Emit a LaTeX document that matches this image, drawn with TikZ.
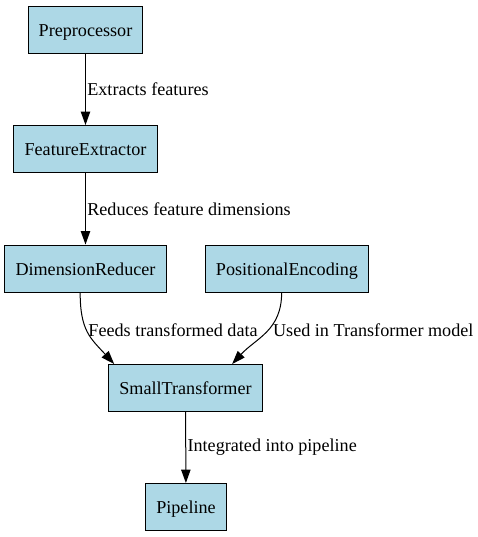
\documentclass[tikz,border=0pt]{standalone}
\usepackage{fontspec}
\setmainfont{Liberation Serif}
\usetikzlibrary{arrows.meta}
\definecolor{boxblue}{RGB}{173,216,230}
\begin{document}
\begin{tikzpicture}[x=0.75pt,y=-0.75pt,font=\fontsize{13.6pt}{16pt}\selectfont,
				line width=0.75pt,
				main node/.style = {rectangle,draw,fill=boxblue, inner xsep=8pt, minimum height=35.25pt, text height=11pt, text depth=1pt},
				flow/.style = {-{Triangle[length=10pt,width=7pt]}},
				lbl/.style = {right, inner xsep=1pt, inner ysep=0pt}]
				
				\useasboundingbox (0,0) rectangle (478,537);
				
				\node[main node] (pre) at (85.5,29.5) {Preprocessor};
				\node[main node] (feat) at (85.5,149) {FeatureExtractor};
				\node[main node] (dimred) at (85.5,268.5) {DimensionReducer};
				\node[main node] (posenc) at (287,268.5) {PositionalEncoding};
				\node[main node] (smalltr) at (185.5,388) {SmallTransformer};
				\node[main node] (pipe) at (186,507) {Pipeline};
				
				\draw[flow] (pre) -- node[lbl] {Extracts features} (feat);
				\draw[flow] (feat) -- node[lbl] {Reduces feature dimensions} (dimred);
				\draw[flow] ([xshift=-4pt]dimred.south) .. controls +(0,38) and +(-24,-26) .. node[lbl, pos=0.45] {Feeds transformed data} ([xshift=4.5pt]smalltr.north west);
				\draw[flow] ([xshift=-4pt]posenc.south) .. controls +(0,38) and +(24,-26) .. node[lbl, pos=0.45, xshift=2pt] {Used in Transformer model} ([xshift=-23pt]smalltr.north east);
				\draw[flow] (smalltr) -- node[lbl] {Integrated into pipeline} (pipe);
\end{tikzpicture}
\end{document}
